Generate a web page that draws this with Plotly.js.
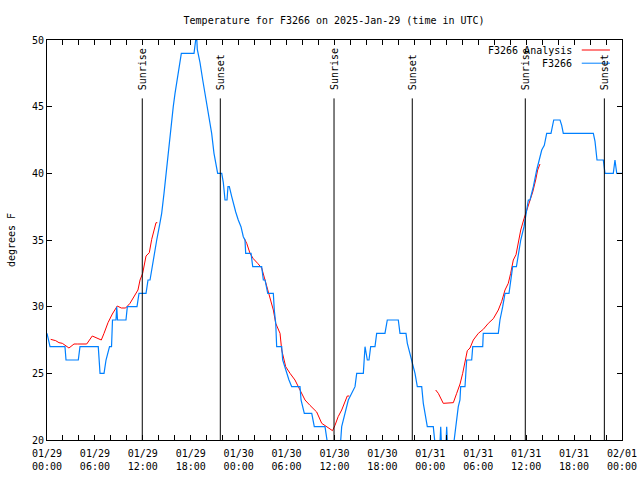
<!DOCTYPE html>
<html>
<head>
<meta charset="utf-8">
<script src="https://cdn.plot.ly/plotly-3.0.1.min.js"></script>
<style>html,body{margin:0;padding:0;background:#fff;}#chart{width:640px;height:480px;}</style>
</head>
<body>
<div id="chart"></div>
<script>
// Hours since 2025-01-29 00:00 UTC
const startDate = Date.UTC(2025, 0, 29, 0, 0);
const spanHours = 72;

const blueHours = [
  0.00,0.38,2.25,2.38,3.92,4.13,6.42,6.64,7.14,7.39,
  7.83,8.08,8.20,8.64,8.73,8.83,9.89,10.06,11.27,11.52,
  12.40,12.65,12.90,13.15,13.40,13.74,14.06,14.36,14.65,14.99,
  15.31,15.61,15.81,16.03,16.32,16.57,16.82,18.41,18.72,18.82,
  19.16,19.50,19.78,20.20,20.62,20.91,21.25,21.37,21.88,22.08,
  22.29,22.54,22.66,22.83,23.13,23.33,23.63,23.95,24.29,24.58,
  24.79,24.88,25.55,25.76,26.88,27.09,27.30,27.64,28.34,28.46,
  28.64,28.76,29.39,29.51,30.01,30.30,30.64,31.68,31.81,32.22,
  33.15,33.47,34.81,35.06,35.31,36.56,36.78,36.90,37.32,37.73,
  38.57,38.78,39.61,39.73,39.82,40.11,40.32,40.53,41.07,41.28,
  42.32,42.61,43.99,44.20,44.95,45.12,45.45,45.67,46.08,46.37,
  46.92,47.12,47.33,47.62,48.37,48.59,48.71,49.15,49.30,49.44,
  49.90,50.05,50.19,50.78,50.98,51.22,51.50,51.71,51.80,52.34,
  52.55,53.18,53.31,54.56,54.63,56.51,56.72,57.06,57.35,57.85,
  58.06,58.31,58.78,59.01,59.32,59.73,59.98,60.27,60.48,60.90,
  61.32,61.61,61.95,62.27,62.57,63.11,63.27,63.45,64.24,64.45,
  64.65,68.41,68.62,68.87,69.66,69.87,70.91,71.12,71.34,72.0
];
const blueTemps = [
  28,27,27,26,26,27,27,25,25,26,
  27,27,29,29,30,29,29,30,30,31,
  31,32,32,33,34,35,36,37,38.5,40.5,
  42.5,44,45,46,47,48,49,49,50.5,49.3,
  48.3,47,46,44.5,43,41.5,40.3,40,40,39.3,
  38,38,39,39,38.25,37.75,37.1,36.5,36,35.25,
  35,34,34,33,33,32,32,31,31,29.75,
  28.75,27,27,26,25,24.5,24,24,23,22,
  22,21,21,20,19,19,20,21,22,23,
  24,25,25,26.25,27,26,26,27,27,28,
  28,29,29,28,28,27.25,26.5,26,25,24,
  24,22.75,22,21,21,20,19,19,21,19,
  19,21,19,19,20,21.25,22.5,23,24,24,
  26,26,27,27,28,28,29,30,31,31,
  32,33,33,34,35,36,37,38,38,39,
  40.25,41,41.75,42.1,43,43,43.5,44,44,43.6,
  43,43,42.4,41,41,40,40,41,40,40
];

const redHours = [
  0.46,1.09,1.50,1.92,2.75,3.38,3.79,4.97,5.67,6.30,
  6.80,7.14,7.64,8.18,8.80,9.30,9.85,10.39,10.89,11.39,
  11.65,11.98,12.40,12.81,13.11,13.40,13.65,13.81,
  19.0,
  24.71,25.01,25.42,25.83,26.38,26.88,27.30,27.64,28.05,28.34,
  28.64,29.18,29.39,29.89,30.43,31.05,31.68,32.31,32.93,33.77,
  34.40,35.02,35.75,36.06,36.46,36.90,37.32,37.60,37.85,
  42.0,
  48.67,49.00,49.62,50.88,51.30,51.72,52.05,52.34,52.63,52.97,
  53.38,54.01,54.63,55.26,55.89,56.51,56.94,57.35,57.76,58.06,
  58.39,58.73,59.01,59.32,59.73,60.07,60.48,60.82,61.19,61.44,
  61.73
];
const redTemps = [
  27.55,27.45,27.3,27.25,26.9,27.2,27.2,27.2,27.8,27.6,
  27.5,28,28.8,29.45,30.05,29.9,29.9,30.25,30.75,31.25,
  32,32.5,33.8,34.05,35.05,35.8,36.3,36.3,
  null,
  35.1,34.75,34,33.6,33.25,32.9,32,31.25,30.5,29.75,
  28.75,28,26.75,25.5,25,24.5,23.75,23,22.6,22.1,
  21.25,21,20.7,21.1,21.75,22.25,22.9,23.3,23.3,
  null,
  23.75,23.5,22.75,22.8,23.5,24.2,25,26,26.7,26.9,
  27.5,28,28.3,28.75,29.1,29.75,30.4,31.25,31.75,32.5,
  33.5,33.9,34.75,35.75,36.6,37.25,38,38.6,39.5,40.25,
  40.7
];

const sunHours = [11.93, 21.70, 35.94, 45.74, 59.89, 69.79];
const sunLabels = ['Sunrise', 'Sunset', 'Sunrise', 'Sunset', 'Sunrise', 'Sunset'];

const seriesNames = ['F3266 Analysis', 'F3266'];
const seriesColors = ['#ff0000', '#0080ff'];
const titleText = 'Temperature for F3266 on 2025-Jan-29 (time in UTC)';
const yTitle = 'degrees F';

const H = 3600000;
const toMs = h => startDate + h * H;
const FONT = 'DejaVu Sans Mono, monospace';

const traces = [
  {
    x: redHours.map(toMs), y: redTemps, type: 'scatter', mode: 'lines',
    name: seriesNames[0], line: {color: seriesColors[0], width: 1}, connectgaps: false
  },
  {
    x: blueHours.map(toMs), y: blueTemps, type: 'scatter', mode: 'lines',
    name: seriesNames[1], line: {color: seriesColors[1], width: 1.2}
  }
];

const shapes = sunHours.map(h => ({
  type: 'line', xref: 'x', yref: 'paper', x0: toMs(h), x1: toMs(h), y0: 0, y1: 0.854,
  line: {color: '#000', width: 1}
}));
const annotations = sunHours.map((h, i) => ({
  x: toMs(h), y: 0.87, xref: 'x', yref: 'paper', text: sunLabels[i], textangle: -90,
  showarrow: false, xanchor: 'center', yanchor: 'bottom', font: {family: FONT, size: 10, color: '#000'}
}));

// legend drawn gnuplot style (text then sample line)
const legendY = [0.975, 0.942];
seriesNames.forEach((n, i) => {
  annotations.push({
    x: 0.9165, y: legendY[i], xref: 'paper', yref: 'paper', text: n, showarrow: false,
    xanchor: 'right', yanchor: 'middle', font: {family: FONT, size: 10, color: '#000'}
  });
  shapes.push({
    type: 'line', xref: 'paper', yref: 'paper', x0: 0.930, x1: 0.979, y0: legendY[i], y1: legendY[i],
    line: {color: seriesColors[i], width: 1}
  });
});

const layout = {
  width: 640, height: 480,
  margin: {l: 47, r: 18, t: 40, b: 40},
  paper_bgcolor: '#fff', plot_bgcolor: '#fff',
  showlegend: false,
  font: {family: FONT, size: 10, color: '#000'},
  title: {text: titleText, x: 0.522, xanchor: 'center', y: 0.958, yanchor: 'middle', yref: 'container',
          font: {family: FONT, size: 10, color: '#000'}},
  xaxis: {
    type: 'date', range: [toMs(0), toMs(spanHours)], tick0: toMs(0), dtick: 6 * H,
    tickformat: '%m/%d<br>%H:%M', ticks: 'inside', ticklen: 5, tickcolor: '#000',
    mirror: 'allticks', showline: true, linecolor: '#000', linewidth: 1,
    showgrid: false, zeroline: false, ticklabelstandoff: 4,
    minor: {dtick: 2 * H, ticks: 'inside', ticklen: 5, tickcolor: '#000', showgrid: false},
    tickfont: {family: FONT, size: 10, color: '#000'}
  },
  yaxis: {
    range: [20, 50], dtick: 5, tick0: 20, ticks: 'inside', ticklen: 5, tickcolor: '#000',
    mirror: 'allticks', showline: true, linecolor: '#000', linewidth: 1,
    showgrid: false, zeroline: false,
    tickfont: {family: FONT, size: 10, color: '#000'},
    title: {text: yTitle, font: {family: FONT, size: 10, color: '#000'}, standoff: 14}
  },
  shapes: shapes,
  annotations: annotations
};

Plotly.newPlot('chart', traces, layout, {staticPlot: true, displayModeBar: false});
</script>
</body>
</html>
